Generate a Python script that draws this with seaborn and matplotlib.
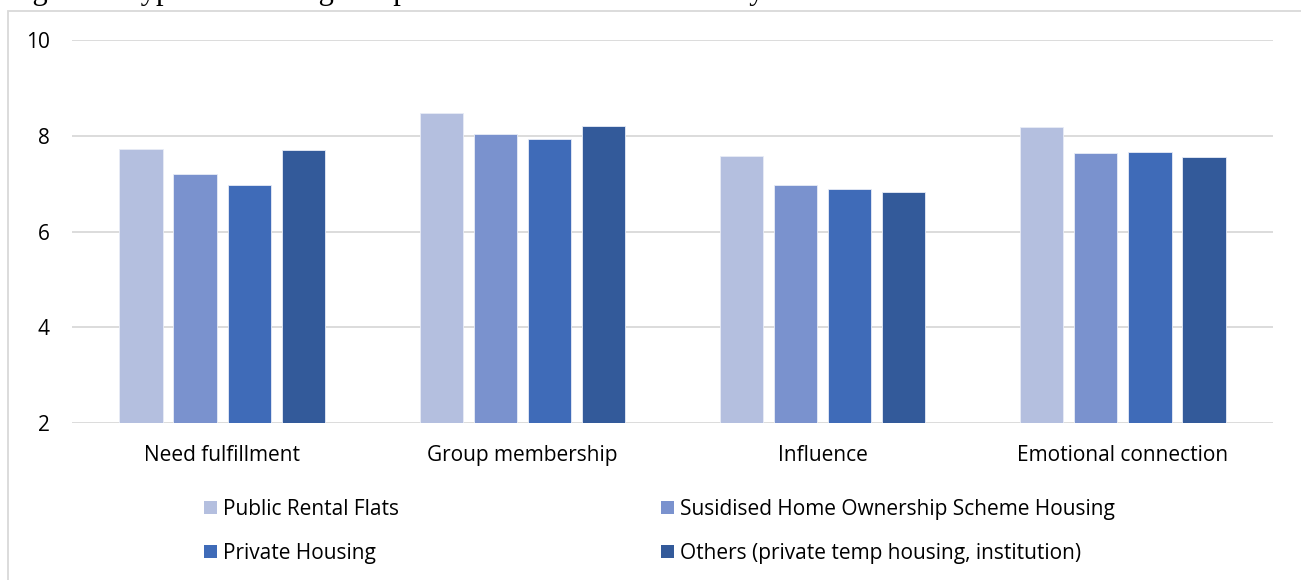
import matplotlib
matplotlib.use("Agg")
import matplotlib.pyplot as plt
import seaborn as sns
import pandas as pd
from matplotlib.patches import Rectangle, Patch

categories = ["Need fulfillment", "Group membership", "Influence", "Emotional connection"]
series_names = [
    "Public Rental Flats",
    "Susidised Home Ownership Scheme Housing",
    "Private Housing",
    "Others (private temp housing, institution)",
]
public_rental = [7.72, 8.47, 7.58, 8.19]
subsidised = [7.20, 8.04, 6.98, 7.63]
private_housing = [6.97, 7.93, 6.89, 7.67]
others = [7.70, 8.20, 6.83, 7.55]
colors = ["#B4BFDF", "#7A92CE", "#3F6BB8", "#335A9A"]
yticks = [2, 4, 6, 8, 10]

rows = []
for name, vals in zip(series_names, [public_rental, subsidised, private_housing, others]):
    for c, v in zip(categories, vals):
        rows.append({"category": c, "series": name, "value": v})
df = pd.DataFrame(rows)

sns.set_theme(style="white")
plt.rcParams["font.family"] = ["Open Sans", "DejaVu Sans"]
plt.rcParams["text.color"] = "#000000"

fig = plt.figure(figsize=(13.01, 5.8), dpi=100)
W, H = 1301, 580
ax = fig.add_axes([72 / W, 1 - 423 / H, (1273 - 72) / W, (423 - 40) / H])

sns.barplot(data=df, x="category", y="value", hue="series", order=categories,
            hue_order=series_names, palette=colors, saturation=1, width=0.72, gap=0.2,
            edgecolor="#E8ECF6", linewidth=0.6, errorbar=None, legend=False, ax=ax)

ax.set_ylim(2, 10)
ax.set_yticks(yticks)
ax.set_xlim(-0.5, 3.5)
ax.yaxis.grid(True, color="#D9D9D9", linewidth=1.3)
ax.set_axisbelow(True)
for s in ["top", "right", "left", "bottom"]:
    ax.spines[s].set_visible(False)
ax.set_xlabel("")
ax.set_ylabel("")
ax.tick_params(axis="y", length=0, pad=16, labelsize=15, labelcolor="#000000")
ax.tick_params(axis="x", length=0, pad=16, labelsize=15, labelcolor="#000000")

# legend filled column-wise: reorder so rows read Public/Subsidised, Private/Others
order = [0, 2, 1, 3]
handles = [Patch(facecolor=colors[i], edgecolor="none") for i in order]
labels = [series_names[i] for i in order]
fig.legend(handles, labels, loc="upper left", bbox_to_anchor=(204 / W, 1 - 499 / H),
           ncol=2, frameon=False, fontsize=15, handlelength=0.62, handleheight=0.62,
           handletextpad=0.29, columnspacing=12.6, labelspacing=1.1, borderpad=0,
           borderaxespad=0, labelcolor="#000000")

fig.patches.append(Rectangle((7.5 / W, -0.1), 1.2, 1 - 11 / H + 0.1,
                             transform=fig.transFigure, fill=False,
                             edgecolor="#D9D9D9", linewidth=1.3))

fig.text(7 / W, 1 + 1.5 / H, "Figure 7. Types of housing and perceived sense of community",
         family=["Liberation Serif", "DejaVu Serif"], fontsize=22, va="baseline", ha="left")

fig.savefig("out.png", dpi=100)
